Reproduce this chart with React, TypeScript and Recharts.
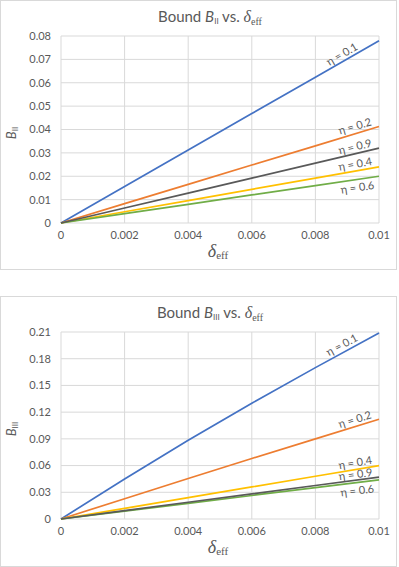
import React from "react";
import { LineChart, Line, XAxis, YAxis, CartesianGrid } from "recharts";

// x values (δ_eff) and tick labels
const deltaEff = [0, 0.002, 0.004, 0.006, 0.008, 0.01];
const xTicks = [0, 0.002, 0.004, 0.006, 0.008, 0.01];
const xTickLabels = ["0", "0.002", "0.004", "0.006", "0.008", "0.01"];

// Bound B_II
const bIIeta01 = [0, 0.0156, 0.0312, 0.0468, 0.0624, 0.078];
const bIIeta02 = [0, 0.0083, 0.0165, 0.0248, 0.033, 0.0413];
const bIIeta04 = [0, 0.0048, 0.0096, 0.0144, 0.0192, 0.024];
const bIIeta06 = [0, 0.004, 0.008, 0.012, 0.016, 0.02];
const bIIeta09 = [0, 0.0064, 0.0128, 0.0192, 0.0256, 0.032];
const bIITicks = [0, 0.01, 0.02, 0.03, 0.04, 0.05, 0.06, 0.07, 0.08];
const bIITickLabels = ["0", "0.01", "0.02", "0.03", "0.04", "0.05", "0.06", "0.07", "0.08"];

// Bound B_III
const bIIIeta01 = [0, 0.045, 0.0885, 0.13, 0.17, 0.209];
const bIIIeta02 = [0, 0.0228, 0.0455, 0.068, 0.09, 0.112];
const bIIIeta04 = [0, 0.012, 0.024, 0.036, 0.048, 0.06];
const bIIIeta06 = [0, 0.0088, 0.0176, 0.0264, 0.0352, 0.044];
const bIIIeta09 = [0, 0.0094, 0.0188, 0.0282, 0.0376, 0.047];
const bIIITicks = [0, 0.03, 0.06, 0.09, 0.12, 0.15, 0.18, 0.21];
const bIIITickLabels = ["0", "0.03", "0.06", "0.09", "0.12", "0.15", "0.18", "0.21"];

const etaNames = ["η = 0.1", "η = 0.2", "η = 0.4", "η = 0.6", "η = 0.9"];
const colors = ["#4472C4", "#ED7D31", "#FFC000", "#70AD47", "#595959"];

const TXT = "#595959";
const SANS = "Lato, 'Open Sans', sans-serif";
const SERIF = "'Liberation Serif', 'DejaVu Serif', serif";

// label placement per series: angle (deg), distance back from end (px), offset from line
const labelsII = [
  { angle: 30, back: 19, off: -3 },
  { angle: 16, back: 6, off: -3 },
  { angle: 10, back: 6, off: -3 },
  { angle: 8, back: 6, off: 12 },
  { angle: 13, back: 6, off: -3 },
];
const labelsIII = [
  { angle: 28, back: 19, off: -3 },
  { angle: 17, back: 6, off: -3 },
  { angle: 9.5, back: 6, off: -3 },
  { angle: 7, back: 6, off: 12 },
  { angle: 7.5, back: 6, off: -2 },
];

function makeRows(series: number[][]) {
  return deltaEff.map((d, i) => {
    const row: any = { d };
    series.forEach((s, k) => (row["s" + k] = s[i]));
    return row;
  });
}

function Delta({ size, sub }: { size: number; sub: number }) {
  return (
    <span style={{ fontFamily: SERIF }}>
      <i style={{ fontSize: size }}>δ</i>
      <sub style={{ fontSize: sub, verticalAlign: "-0.25em" }}>eff</sub>
    </span>
  );
}

function Bsym({ size, sub, idx }: { size: number; sub: number; idx: string }) {
  return (
    <span>
      <i style={{ fontSize: size }}>B</i>
      <sub style={{ fontSize: sub, verticalAlign: "-0.2em" }}>{idx}</sub>
    </span>
  );
}

function Panel({
  top, height, bottomMargin, idx, series, yTicks, yTickLabels, labels,
}: {
  top: number; height: number; bottomMargin: number; idx: string;
  series: number[][]; yTicks: number[]; yTickLabels: string[];
  labels: { angle: number; back: number; off: number }[];
}) {
  const rows = makeRows(series);
  const last = deltaEff.length - 1;
  const yMax = yTicks[yTicks.length - 1];

  const renderLabel = (k: number) => (props: any) => {
    if (props.index !== last) return null;
    const { angle, back, off } = labels[k];
    const px = props.x - back;
    const py = props.y + back * Math.tan((angle * Math.PI) / 180);
    return (
      <text
        key={"lb" + k}
        x={px}
        y={py}
        dy={off}
        textAnchor="end"
        transform={`rotate(${-angle} ${px} ${py})`}
        fill={TXT}
        fontSize={11}
        fontFamily={SANS}
      >
        {etaNames[k]}
      </text>
    );
  };

  return (
    <div style={{ position: "absolute", left: 0, top, width: 397, height }}>
      <div
        style={{
          position: "absolute", left: 0, top: 0, width: 397, height,
          boxSizing: "border-box", border: "1px solid #d9d9d9", background: "#fff",
        }}
      />
      <div style={{ position: "absolute", left: 0, top: 0 }}>
        <LineChart
          width={396}
          height={height}
          data={rows}
          margin={{ top: 36, right: 17, left: 0, bottom: bottomMargin }}
        >
          <CartesianGrid stroke="#d9d9d9" strokeWidth={1} />
          <XAxis
            dataKey="d"
            type="number"
            domain={[0, 0.01]}
            ticks={xTicks}
            tickFormatter={(_v: number, i: number) => xTickLabels[i]}
            axisLine={false}
            tickLine={false}
            height={30}
            interval={0}
            tick={{ fontSize: 11, fill: TXT, fontFamily: SANS }}
          />
          <YAxis
            type="number"
            domain={[0, yMax]}
            ticks={yTicks}
            tickFormatter={(_v: number, i: number) => yTickLabels[i]}
            axisLine={false}
            tickLine={false}
            width={61}
            tickMargin={4}
            interval={0}
            tick={{ fontSize: 11, fill: TXT, fontFamily: SANS }}
          />
          {series.map((_, k) => (
            <Line
              key={k}
              dataKey={"s" + k}
              stroke={colors[k]}
              strokeWidth={1.7}
              dot={false}
              isAnimationActive={false}
              label={renderLabel(k)}
            />
          ))}
        </LineChart>
      </div>
      <div
        style={{
          position: "absolute", left: 60, top: 6, width: 300, textAlign: "center",
          fontFamily: SANS, fontSize: 15, color: TXT, whiteSpace: "nowrap", lineHeight: "20px",
        }}
      >
        Bound <Bsym size={15} sub={8} idx={idx} /> vs. <Delta size={16} sub={10} />
      </div>
      <div
        style={{
          position: "absolute", left: 13, top: 133, transform: "translate(-50%, -50%) rotate(-90deg)",
          fontFamily: SANS, fontSize: 13, color: TXT, whiteSpace: "nowrap", lineHeight: "16px",
        }}
      >
        <Bsym size={13} sub={8} idx={idx} />
      </div>
      <div
        style={{
          position: "absolute", left: 218, top: 253, transform: "translate(-50%, -50%)",
          color: TXT, whiteSpace: "nowrap", lineHeight: "20px",
        }}
      >
        <Delta size={18} sub={11} />
      </div>
    </div>
  );
}

export default function App() {
  return (
    <div style={{ position: "absolute", left: 0, top: 0, width: 399, height: 567, background: "#fff" }}>
      <Panel
        top={0}
        height={270}
        bottomMargin={17}
        idx="II"
        series={[bIIeta01, bIIeta02, bIIeta04, bIIeta06, bIIeta09]}
        yTicks={bIITicks}
        yTickLabels={bIITickLabels}
        labels={labelsII}
      />
      <Panel
        top={296}
        height={271}
        bottomMargin={18}
        idx="III"
        series={[bIIIeta01, bIIIeta02, bIIIeta04, bIIIeta06, bIIIeta09]}
        yTicks={bIIITicks}
        yTickLabels={bIIITickLabels}
        labels={labelsIII}
      />
    </div>
  );
}
